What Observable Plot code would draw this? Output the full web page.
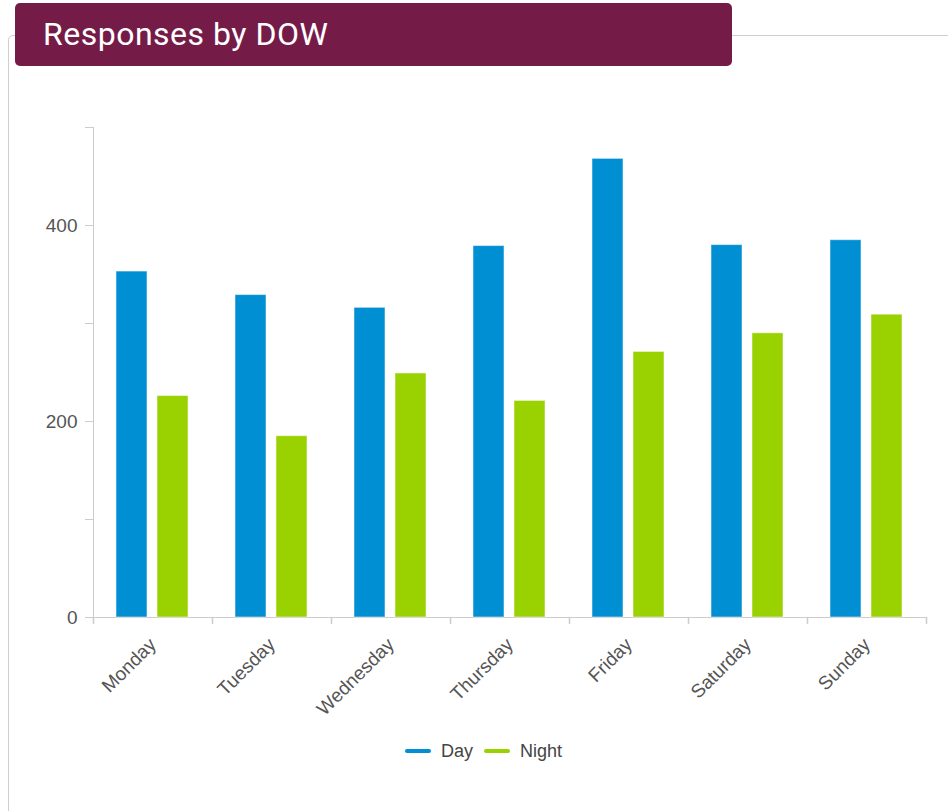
<!DOCTYPE html>
<html>
<head>
<meta charset="utf-8">
<script src="https://cdn.jsdelivr.net/npm/d3@7"></script>
<script src="https://cdn.jsdelivr.net/npm/@observablehq/plot@0.6"></script>
<style>
  html, body { margin: 0; padding: 0; background: #fff; }
  body { width: 948px; height: 811px; overflow: hidden; position: relative; font-family: "Liberation Sans", Arial, sans-serif; }
  #card { position: absolute; left: 8px; top: 35px; width: 980px; height: 820px; border: 1px solid #cfcfcf; border-radius: 5px; box-sizing: border-box; }
  #banner { position: absolute; left: 15px; top: 3px; width: 717px; height: 63px; background: #741c47; border-radius: 5px;
            color: #fff; font-family: Roboto, "Noto Sans", sans-serif; font-size: 32px; letter-spacing: 0.5px; line-height: 63px; padding-left: 28px; box-sizing: border-box; }
  #chart { position: absolute; left: 0; top: 0; }
  #legend { position: absolute; left: 0; width: 948px; top: 739px; height: 24px; display: flex; justify-content: center; align-items: center;
            font-size: 18px; color: #444; padding-left: 19px; box-sizing: border-box; }
  .item { display: flex; align-items: center; margin: 0 5.5px; }
  .sw { width: 26px; height: 4px; border-radius: 2px; margin-right: 10px; }
</style>
</head>
<body>
<div id="card"></div>
<div id="banner">Responses by DOW</div>
<div id="chart"></div>
<div id="legend"></div>
<script>
const days = ["Monday", "Tuesday", "Wednesday", "Thursday", "Friday", "Saturday", "Sunday"];
const dayValues = [353, 329, 316, 379, 468, 380, 385];
const nightValues = [226, 185, 249, 221, 271, 290, 309];
const series = ["Day", "Night"];
const colors = ["#008fd3", "#9ad100"];
const yTicks = [0, 100, 200, 300, 400, 500];

const rows = days.flatMap((d, i) => [
  {day: d, series: "Day", value: dayValues[i]},
  {day: d, series: "Night", value: nightValues[i]}
]);

const tickShape = {draw(context, l) { context.moveTo(0, 0); context.lineTo(0, -l); }};

const chart = Plot.plot({
  width: 948,
  height: 730,
  marginLeft: 92,
  marginRight: 22,
  marginTop: 127,
  marginBottom: 113,
  style: {fontFamily: "'Liberation Sans', Arial, sans-serif", fontSize: "19px", background: "transparent"},
  fx: {domain: days, padding: 0, label: null},
  x: {domain: series, paddingInner: 0.238, paddingOuter: 0.536, axis: null},
  y: {domain: [0, 500], axis: null},
  color: {domain: series, range: colors},
  marks: [
    Plot.frame({anchor: "bottom", stroke: "#cccccc"}),
    Plot.frame({anchor: "left", stroke: "#cccccc", facetAnchor: "left"}),
    Plot.barY(rows, {fx: "day", x: "series", y: "value", fill: "series", stroke: "white", strokeOpacity: 0.5}),
    Plot.axisY({ticks: yTicks, tickSize: 8, tickPadding: 8, stroke: "#cccccc", fill: "#555", label: null,
                tickFormat: d => d % 200 === 0 ? String(d) : "", fontSize: 19}),
    Plot.axisFx({anchor: "bottom", tickRotate: -45, tickSize: 0, tickPadding: 24, fill: "#555", fontSize: 19, label: null}),
    Plot.vector([0], {frameAnchor: "bottom-left", length: 6, rotate: 180, anchor: "start", shape: tickShape, stroke: "#cccccc"}),
    Plot.vector([0], {frameAnchor: "bottom-right", length: 6, rotate: 180, anchor: "start", shape: tickShape, stroke: "#cccccc", facetAnchor: "right"})
  ]
});
document.getElementById("chart").appendChild(chart);

const legend = document.getElementById("legend");
series.forEach((s, i) => {
  const item = document.createElement("div");
  item.className = "item";
  const sw = document.createElement("div");
  sw.className = "sw";
  sw.style.background = colors[i];
  const t = document.createElement("span");
  t.textContent = s;
  item.appendChild(sw);
  item.appendChild(t);
  legend.appendChild(item);
});
</script>
</body>
</html>
